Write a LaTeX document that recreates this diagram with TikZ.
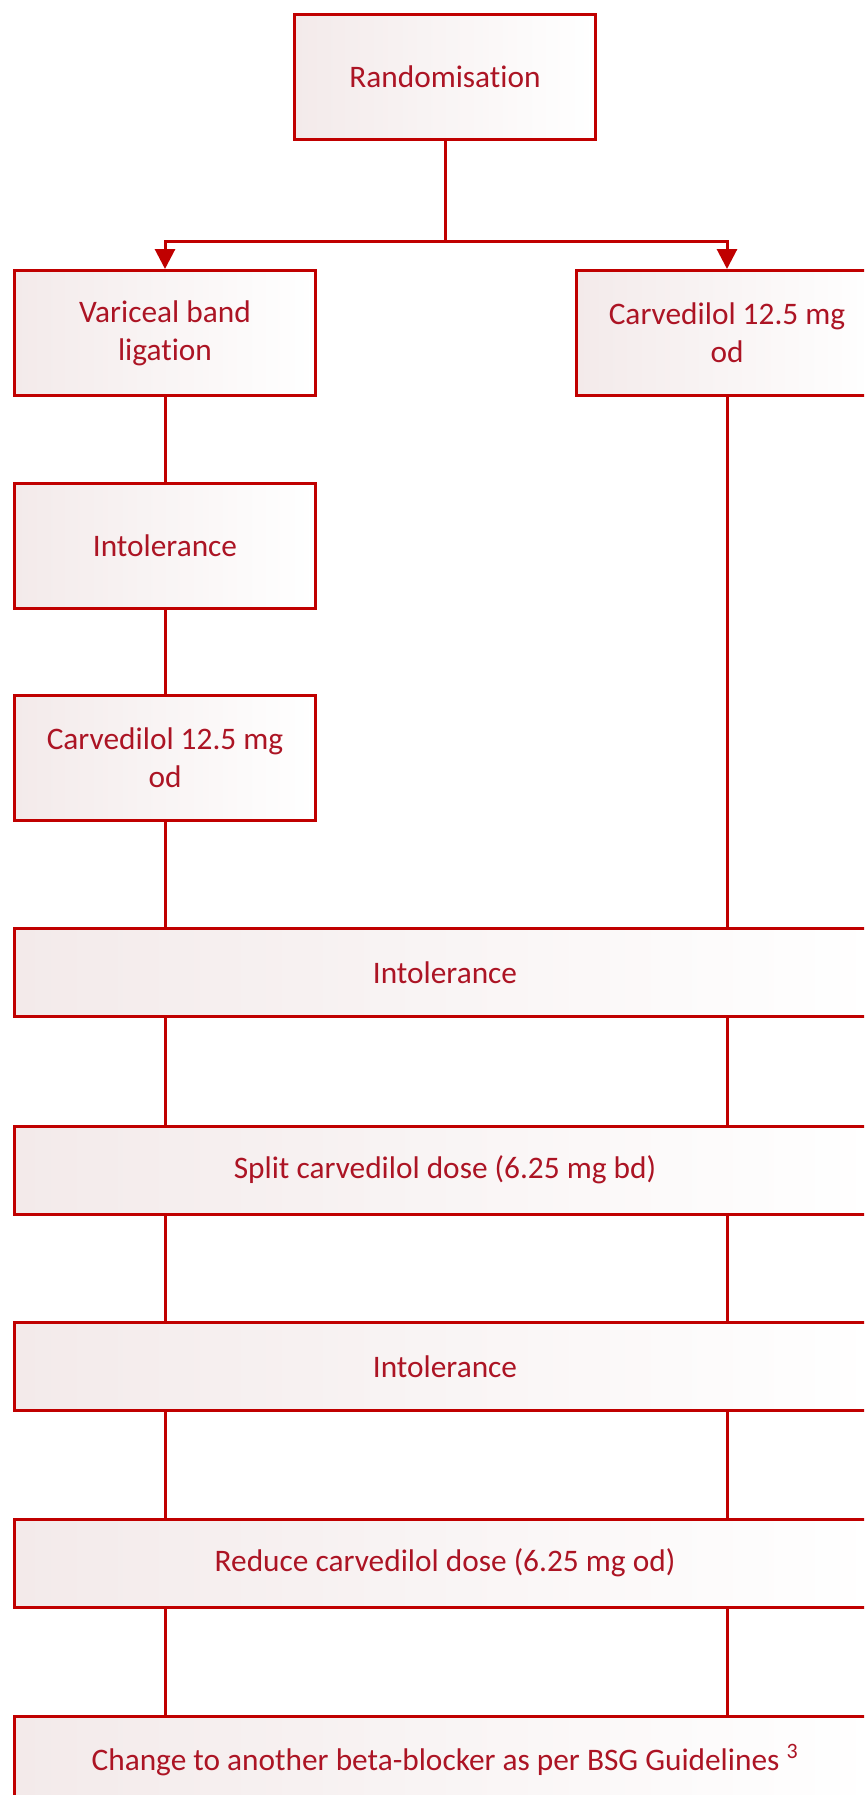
\documentclass[tikz,border=0pt]{standalone}
\usepackage{fontspec}
\setmainfont{Carlito}[Ligatures=NoCommon]
\usepackage{tikz}
\usetikzlibrary{arrows.meta, positioning, calc}
\definecolor{trialred}{HTML}{C00000}
\definecolor{trialtext}{HTML}{AC1424}
\definecolor{trialtint}{HTML}{F3EAEA}

\begin{document}
\begin{tikzpicture}[
  x=0.75pt, y=-0.75pt,
  every node/.style={font=\fontsize{23.5}{28.5}\selectfont, text=trialtext, align=center},
  stepbox/.style={draw=trialred, line width=2.25pt, left color=trialtint, right color=white, minimum width=225.75pt, minimum height=93.75pt, inner sep=0pt},
  widebox/.style={stepbox, minimum width=645.75pt, minimum height=66pt},
  link/.style={draw=trialred, line width=2.25pt},
  branch/.style={link, -{Triangle[length=15pt, width=15pt]}}
]
\useasboundingbox (0,0) rectangle (864,1795);
\clip (0,0) rectangle (864,1795);

\node[stepbox] (rand) at (445,76.5) {Randomisation};
\node[stepbox] (vbl) at (165,333) {Variceal band\\ligation};
\node[stepbox] (carvR) at (727,333) {Carvedilol 12.5 mg\\od};
\node[stepbox] (intolL) at (165,545.5) {Intolerance};
\node[stepbox] (carvL) at (165,757.5) {Carvedilol 12.5 mg\\od};
\node[widebox] (intolA) at (445,972.5) {Intolerance};
\node[widebox] (split) at (445,1170) {Split carvedilol dose (6.25 mg bd)};
\node[widebox] (intolB) at (445,1366.5) {Intolerance};
\node[widebox] (reduce) at (445,1563) {Reduce carvedilol dose (6.25 mg od)};
\node[widebox] (change) at (445,1760.5) {Change to another beta-blocker as per BSG Guidelines \textsuperscript{3}};

\coordinate (fork) at (445,241);
\draw[link] (rand.south) -- (fork);
\draw[branch] (fork) -| (vbl.north);
\draw[branch] (fork) -| (carvR.north);

\draw[link] (vbl) -- (intolL);
\draw[link] (intolL) -- (carvL);
\draw[link] (carvL.south) -- (carvL.south |- intolA.north);
\draw[link] (carvR.south) -- (carvR.south |- intolA.north);

\foreach \a/\b in {intolA/split, split/intolB, intolB/reduce, reduce/change}{
  \draw[link] (vbl.south |- \a.south) -- (vbl.south |- \b.north);
  \draw[link] (carvR.south |- \a.south) -- (carvR.south |- \b.north);
}
\end{tikzpicture}
\end{document}
